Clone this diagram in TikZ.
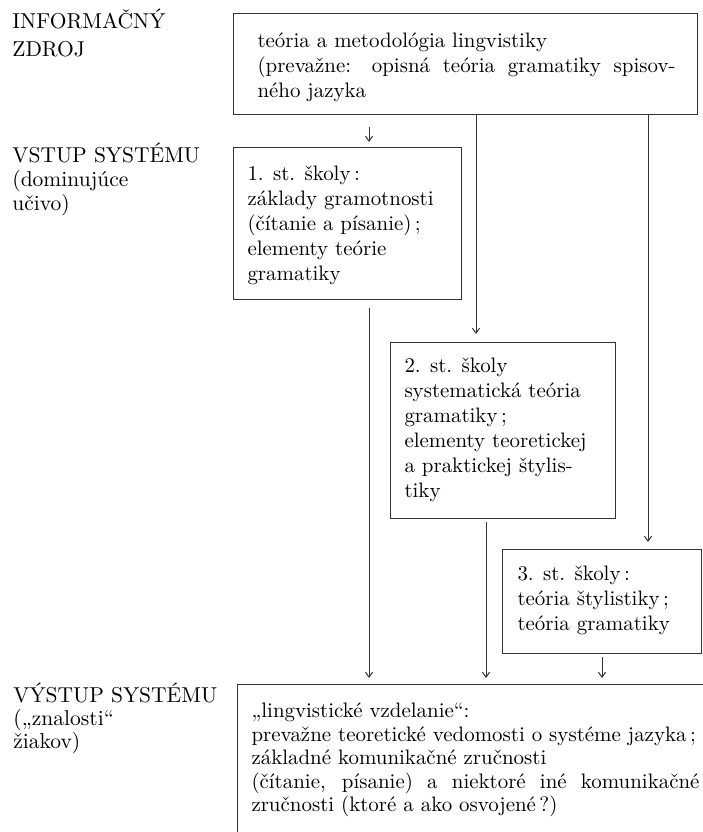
\documentclass[tikz,border=0pt]{standalone}
\usetikzlibrary{arrows.meta,calc}
\newcommand{\btext}[4]{\parbox[c][#2][t]{#1}{\raggedright\rule{0pt}{#3}#4}}
\begin{document}
\begin{tikzpicture}[x=0.5bp,y=-0.5bp,
  line/.style={draw=black!80,line width=0.5bp},
  box/.style={line,anchor=north west,inner ysep=0pt,font=\fontsize{10.5pt}{12.55pt}\selectfont},
  arr/.style={draw=black!80,line width=0.5bp,-{Straight Barb[length=2.5bp,width=3.6bp]}},
  lab/.style={anchor=base west,inner sep=0pt}]
\useasboundingbox (0,0) rectangle (703,832);
% left labels
\node[lab,font=\fontsize{10.8pt}{14bp}\selectfont] (l0) at (12,28)
  {\parbox[t]{110bp}{INFORMAČNÝ\\ZDROJ}};
\node[lab,font=\fontsize{10.8pt}{12bp}\selectfont] (l1) at (12,162)
  {\parbox[t]{110bp}{VSTUP SYSTÉMU\\(dominujúce\\učivo)}};
\node[lab,font=\fontsize{10.8pt}{11.5bp}\selectfont] (l2) at (13,702)
  {\parbox[t]{110bp}{VÝSTUP SYSTÉMU\\(„znalosti“\\žiakov)}};
% boxes
\node[box,inner xsep=12bp] (b0) at (233,13)
  {\btext{208bp}{50.5bp}{17bp}{teória a metodológia lingvistiky\\\makebox[209bp][s]{(prevažne: opisná teória gramatiky spisov-}\\ného jazyka}};
\node[box,inner xsep=7bp] (b1) at (233,147)
  {\btext{100bp}{76bp}{16.5bp}{1. st. školy\,:\\základy gramotnosti\\(čítanie a písanie)\,;\\elementy teórie\\gramatiky}};
\node[box,inner xsep=7bp] (b2) at (390,342)
  {\btext{98.5bp}{88bp}{15bp}{2. st. školy\\systematická teória\\gramatiky\,;\\elementy teoretickej\\a praktickej štylis-\\tiky}};
\node[box,inner xsep=7.5bp] (b3) at (502,549)
  {\btext{84.5bp}{52bp}{15.5bp}{3. st. školy\,:\\teória štylistiky\,;\\teória gramatiky}};
\node[box,draw=none,inner xsep=0pt,font=\fontsize{10.5pt}{11.75bp}\selectfont] (out) at (237,684)
  {\btext{233bp}{74bp}{16.5bp}{\leftskip=7bp „lingvistické vzdelanie“:\\prevažne teoretické vedomosti o systéme jazyka\,;\\základné komunikačné zručnosti\\\makebox[224bp][s]{(čítanie, písanie) a niektoré iné komunikačné}\\zručnosti (ktoré a ako osvojené\,?)}};
\draw[line] (out.south west) -- (out.north west) -- (out.north east);
% connector x positions
\coordinate (xa) at (369,0);
\coordinate (xb) at (476,0);
\coordinate (xc) at (648,0);
\coordinate (xd) at (486,0);
\coordinate (xe) at (602,0);
\draw[arr] ($(b0.south -| xa)+(0,-6bp)$) -- ($(b1.north -| xa)+(0,2.5bp)$);
\draw[arr] (b0.south -| xb) -- ($(b2.north -| xb)+(0,4bp)$);
\draw[arr] (b0.south -| xc) -- ($(b3.north -| xc)+(0,3.5bp)$);
\draw[arr] ($(b1.south -| xa)+(0,-4bp)$) -- ($(out.north -| xa)+(0,3bp)$);
\draw[arr] ($(b2.south -| xd)+(0,-1.5bp)$) -- ($(out.north -| xd)+(0,3bp)$);
\draw[arr] ($(b3.south -| xe)+(0,-1.5bp)$) -- ($(out.north -| xe)+(0,3bp)$);
\end{tikzpicture}
\end{document}
